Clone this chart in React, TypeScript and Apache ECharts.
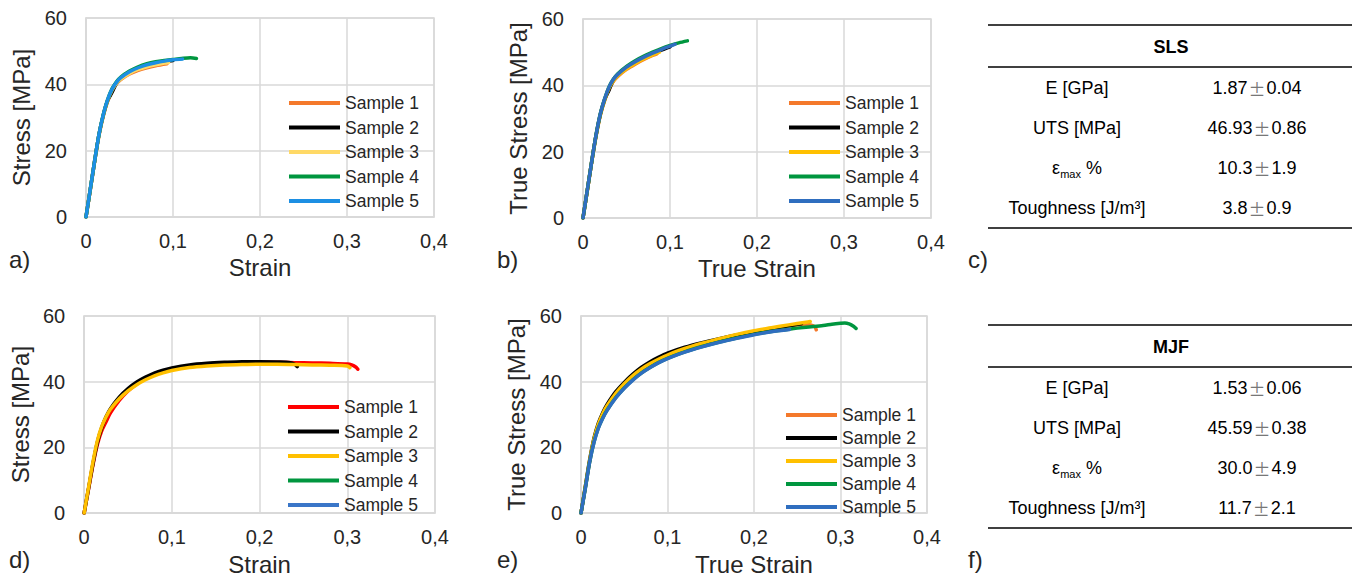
import React, { useEffect, useRef } from "react";
import * as echarts from "echarts";

type Pt = [number, number];

const sampleNames = ["Sample 1", "Sample 2", "Sample 3", "Sample 4", "Sample 5"];
const yTicks = [0, 20, 40, 60];
const xTicks = [0, 0.1, 0.2, 0.3, 0.4];

// a) SLS engineering stress-strain
const slsEngS1: Pt[] = [[0,0],[0.005,8.3],[0.01,16.8],[0.015,24.6],[0.02,30.6],[0.025,35],[0.03,38.1],[0.035,40.1],[0.04,41.4],[0.05,43.1],[0.06,44.2],[0.07,45],[0.08,45.6],[0.093,46.2]];
const slsEngS2: Pt[] = [[0,0],[0.005,8.4],[0.01,17],[0.015,25],[0.02,30.8],[0.025,35.2],[0.03,37.6],[0.035,40.3],[0.04,41.8],[0.05,43.6],[0.06,44.8],[0.07,45.7],[0.08,46.3],[0.09,46.8],[0.1,47.2]];
const slsEngS3: Pt[] = [[0,0],[0.005,8.4],[0.01,16.9],[0.015,24.8],[0.02,30.8],[0.025,35.2],[0.03,38.3],[0.035,40.3],[0.04,41.6],[0.05,43.3],[0.06,44.5],[0.07,45.3],[0.08,45.9],[0.09,46.4],[0.095,46.6]];
const slsEngS4: Pt[] = [[0,0],[0.005,8.5],[0.01,17],[0.015,25],[0.02,31],[0.025,35.5],[0.03,38.7],[0.035,40.8],[0.04,42.2],[0.05,44],[0.06,45.3],[0.07,46.2],[0.08,46.8],[0.09,47.2],[0.1,47.5],[0.11,47.8],[0.12,48],[0.127,47.8]];
const slsEngS5: Pt[] = [[0,0],[0.005,8.5],[0.01,17],[0.015,25],[0.02,31],[0.025,35.5],[0.03,38.6],[0.035,40.6],[0.04,42],[0.05,43.8],[0.06,45],[0.07,45.9],[0.08,46.5],[0.09,47],[0.1,47.4],[0.111,47.6]];

// b) SLS true stress-strain
const slsTrueS1: Pt[] = [[0,0],[0.005,8.3],[0.01,16.8],[0.015,24.6],[0.02,31],[0.025,35.5],[0.03,39],[0.035,41.2],[0.04,42.7],[0.05,44.8],[0.06,46.4],[0.07,47.8],[0.08,49],[0.085,49.5]];
const slsTrueS2: Pt[] = [[0,0],[0.005,8.4],[0.01,17],[0.015,25],[0.02,31.3],[0.025,35.8],[0.03,38.6],[0.035,41.6],[0.04,43.1],[0.05,45.3],[0.06,46.9],[0.07,48.3],[0.08,49.5],[0.09,50.6],[0.1,51.6]];
const slsTrueS3: Pt[] = [[0,0],[0.005,8.4],[0.01,16.9],[0.015,24.8],[0.02,31.2],[0.025,35.7],[0.03,39.2],[0.035,41.4],[0.04,42.9],[0.05,45],[0.06,46.6],[0.07,48],[0.08,49.2],[0.088,50]];
const slsTrueS4: Pt[] = [[0,0],[0.005,8.5],[0.01,17],[0.015,25],[0.02,31.5],[0.025,36],[0.03,39.6],[0.035,41.9],[0.04,43.5],[0.05,45.7],[0.06,47.4],[0.07,48.8],[0.08,50],[0.09,51.1],[0.1,52],[0.11,52.8],[0.12,53.4]];
const slsTrueS5: Pt[] = [[0,0],[0.005,8.5],[0.01,17],[0.015,25],[0.02,31.5],[0.025,36],[0.03,39.5],[0.035,41.8],[0.04,43.3],[0.05,45.5],[0.06,47.1],[0.07,48.5],[0.08,49.7],[0.09,50.8],[0.1,51.8],[0.106,52.4]];

// d) MJF engineering stress-strain
const mjfEngS1: Pt[] = [[0,0],[0.005,7.3],[0.01,14.6],[0.015,20.8],[0.02,25],[0.025,27.8],[0.03,30.5],[0.04,34.3],[0.05,37.2],[0.06,39.3],[0.07,40.9],[0.08,42.1],[0.09,43],[0.1,43.7],[0.12,44.7],[0.14,45.3],[0.16,45.6],[0.18,45.8],[0.2,45.9],[0.22,45.9],[0.24,45.8],[0.26,45.7],[0.28,45.6],[0.3,45.4],[0.305,45.1],[0.31,44.4],[0.312,43.8]];
const mjfEngS2: Pt[] = [[0,0],[0.005,7.5],[0.01,15],[0.015,21.5],[0.02,26],[0.025,29.3],[0.03,31.8],[0.04,35.3],[0.05,37.9],[0.06,39.9],[0.07,41.4],[0.08,42.6],[0.09,43.5],[0.1,44.2],[0.12,45.1],[0.14,45.6],[0.16,45.9],[0.18,46.1],[0.2,46.1],[0.22,46],[0.235,45.8],[0.24,45.3],[0.243,44.6]];
const mjfEngS3: Pt[] = [[0,0],[0.005,7.8],[0.01,15.5],[0.015,22],[0.02,26.3],[0.025,29.3],[0.03,31.6],[0.04,34.8],[0.05,37.2],[0.06,39.1],[0.07,40.6],[0.08,41.8],[0.09,42.7],[0.1,43.4],[0.12,44.3],[0.14,44.8],[0.16,45.1],[0.18,45.2],[0.2,45.3],[0.22,45.3],[0.24,45.2],[0.26,45.1],[0.28,45],[0.3,44.8],[0.303,44.3]];
const mjfEngS4: Pt[] = [];
const mjfEngS5: Pt[] = [];

// e) MJF true stress-strain
const mjfTrueS1: Pt[] = [[0,0],[0.005,7.9],[0.01,15.8],[0.015,22.2],[0.02,26.7],[0.025,29.9],[0.03,32.3],[0.04,36.1],[0.05,39.1],[0.06,41.6],[0.07,43.6],[0.08,45.2],[0.09,46.6],[0.1,47.8],[0.12,49.8],[0.14,51.4],[0.16,52.8],[0.18,54.1],[0.2,55.2],[0.22,56.1],[0.24,56.9],[0.26,57.5],[0.265,57.3],[0.27,56.8],[0.272,55.8]];
const mjfTrueS2: Pt[] = [[0,0],[0.005,8.1],[0.01,16.2],[0.015,22.8],[0.02,27.3],[0.025,30.5],[0.03,33],[0.04,36.9],[0.05,39.8],[0.06,42.3],[0.07,44.4],[0.08,46.1],[0.09,47.5],[0.1,48.7],[0.12,50.5],[0.14,51.9],[0.16,53.1],[0.18,54.2],[0.2,55.2],[0.22,56.1],[0.24,57],[0.255,57.6]];
const mjfTrueS3: Pt[] = [[0,0],[0.005,8],[0.01,16],[0.015,22.5],[0.02,27],[0.025,30.2],[0.03,32.6],[0.04,36.4],[0.05,39.4],[0.06,41.9],[0.07,43.9],[0.08,45.5],[0.09,46.9],[0.1,48.1],[0.12,50.1],[0.14,51.7],[0.16,53.1],[0.18,54.4],[0.2,55.5],[0.22,56.4],[0.24,57.3],[0.26,58.1],[0.265,58.3]];
const mjfTrueS4: Pt[] = [[0,0],[0.005,7.6],[0.01,15.5],[0.015,21.6],[0.02,25.9],[0.025,28.9],[0.03,31.3],[0.04,35.1],[0.05,38.1],[0.06,40.6],[0.07,42.7],[0.08,44.4],[0.09,45.9],[0.1,47.1],[0.12,49.1],[0.14,50.7],[0.16,52.1],[0.18,53.3],[0.2,54.4],[0.22,55.3],[0.24,56],[0.26,56.6],[0.28,57.1],[0.29,57.5],[0.3,57.8],[0.305,57.9],[0.31,57.6],[0.315,56.9],[0.318,56.2]];
const mjfTrueS5: Pt[] = [[0,0],[0.005,7.5],[0.01,15.5],[0.015,21.5],[0.02,25.8],[0.025,28.8],[0.03,31.2],[0.04,35],[0.05,38],[0.06,40.5],[0.07,42.6],[0.08,44.3],[0.09,45.8],[0.1,47],[0.12,49],[0.14,50.6],[0.16,52],[0.18,53.2],[0.2,54.3],[0.22,55.2],[0.241,55.9]];

// tables
const tableRowLabels = ["E [GPa]", "UTS [MPa]", "{eps|ε}{sub|max}{n| %}", "Toughness [J/m³]"];
const slsTitle = "SLS";
const slsMeans = ["1.87", "46.93", "10.3", "3.8"];
const slsDevs = ["0.04", "0.86", "1.9", "0.9"];
const mjfTitle = "MJF";
const mjfMeans = ["1.53", "45.59", "30.0", "11.7"];
const mjfDevs = ["0.06", "0.38", "4.9", "2.1"];

const FONT = "'Liberation Sans', Arial, Helvetica, sans-serif";
const TXT = "#262626";
const GRID = "#D9D9D9";

interface PanelCfg {
  grid: { left: number; top: number; width: number; height: number };
  legend: { left: number; top: number; gap: number };
  colors: string[];
  data: Pt[][];
  xName: string;
  yName: string;
  yNameGap: number;
  xNameGap: number;
  letter: string;
  letterPos: { left: number; top: number };
}

function fmtX(v: number) {
  const r = Math.round(v * 10) / 10;
  return String(r).replace(".", ",");
}

function buildOption(c: PanelCfg) {
  return {
    animation: false,
    textStyle: { fontFamily: FONT },
    grid: { ...c.grid, show: true, borderColor: GRID, borderWidth: 1.5, containLabel: false },
    legend: {
      orient: "vertical",
      left: c.legend.left,
      top: c.legend.top,
      padding: 0,
      itemWidth: 51,
      itemHeight: 4,
      itemGap: c.legend.gap,
      icon: "rect",
      selectedMode: false,
      data: sampleNames,
      textStyle: { fontSize: 17.5, color: TXT, fontFamily: FONT, lineHeight: 20 },
    },
    xAxis: {
      type: "value",
      min: xTicks[0],
      max: xTicks[xTicks.length - 1],
      interval: 0.1,
      name: c.xName,
      nameLocation: "middle",
      nameGap: c.xNameGap,
      nameTextStyle: { fontSize: 24, color: TXT, fontFamily: FONT },
      axisLine: { lineStyle: { color: GRID, width: 1.5 } },
      axisTick: { show: false },
      axisLabel: { fontSize: 20, color: TXT, margin: 14, formatter: fmtX, fontFamily: FONT },
      splitLine: { lineStyle: { color: GRID, width: 1.5 } },
    },
    yAxis: {
      type: "value",
      min: yTicks[0],
      max: yTicks[yTicks.length - 1],
      interval: 20,
      name: c.yName,
      nameLocation: "middle",
      nameGap: c.yNameGap,
      nameTextStyle: { fontSize: 24, color: TXT, fontFamily: FONT },
      axisLine: { show: true, lineStyle: { color: GRID, width: 1.5 } },
      axisTick: { show: false },
      axisLabel: { fontSize: 20, color: TXT, margin: 19, fontFamily: FONT },
      splitLine: { lineStyle: { color: GRID, width: 1.5 } },
    },
    graphic: [
      {
        type: "text",
        left: c.letterPos.left,
        top: c.letterPos.top,
        style: { text: c.letter, fontSize: 24, fill: TXT, fontFamily: FONT },
      },
    ],
    series: sampleNames.map((n, i) => ({
      name: n,
      type: "line",
      data: c.data[i],
      showSymbol: false,
      symbol: "none",
      smooth: 0.3,
      clip: true,
      itemStyle: { color: c.colors[i] },
      lineStyle: { color: c.colors[i], width: 3.5, cap: "round", join: "round" },
    })),
  };
}

const panelA: PanelCfg = {
  grid: { left: 86, top: 18, width: 348, height: 199 },
  legend: { left: 289, top: 93, gap: 4.5 },
  colors: ["#F4792B", "#000000", "#FFD966", "#00963F", "#1C8FE3"],
  data: [slsEngS1, slsEngS2, slsEngS3, slsEngS4, slsEngS5],
  xName: "Strain",
  yName: "Stress [MPa]",
  yNameGap: 50,
  xNameGap: 35,
  letter: "a)",
  letterPos: { left: 9, top: 247 },
};

const panelB: PanelCfg = {
  grid: { left: 93, top: 19, width: 348, height: 199 },
  legend: { left: 299, top: 93, gap: 4.5 },
  colors: ["#F4792B", "#000000", "#FFC000", "#00963F", "#2F6EBF"],
  data: [slsTrueS1, slsTrueS2, slsTrueS3, slsTrueS4, slsTrueS5],
  xName: "True Strain",
  yName: "True Stress [MPa]",
  yNameGap: 49,
  xNameGap: 35,
  letter: "b)",
  letterPos: { left: 7, top: 247 },
};

const panelD: PanelCfg = {
  grid: { left: 83, top: 26, width: 352, height: 204 },
  legend: { left: 288, top: 107, gap: 4.5 },
  colors: ["#FF0000", "#000000", "#FFC000", "#00963F", "#3A76C8"],
  data: [mjfEngS1, mjfEngS2, mjfEngS3, mjfEngS4, mjfEngS5],
  xName: "Strain",
  yName: "Stress [MPa]",
  yNameGap: 49,
  xNameGap: 34,
  letter: "d)",
  letterPos: { left: 9, top: 257 },
};

const panelE: PanelCfg = {
  grid: { left: 91, top: 26, width: 346, height: 203 },
  legend: { left: 296, top: 115, gap: 3 },
  colors: ["#F4792B", "#000000", "#FFC000", "#00963F", "#2F6EBF"],
  data: [mjfTrueS1, mjfTrueS2, mjfTrueS3, mjfTrueS4, mjfTrueS5],
  xName: "True Strain",
  yName: "True Stress [MPa]",
  yNameGap: 49,
  xNameGap: 35,
  letter: "e)",
  letterPos: { left: 7, top: 257 },
};

function tableGraphics(title: string, means: string[], devs: string[], y0: number, letter: string, letterY: number) {
  const x1 = 28;
  const x2 = 392;
  const cx = 211;
  const lc = 117;
  const rc = 297;
  const els: any[] = [];
  const line = (y: number) => ({
    type: "line",
    shape: { x1, y1: y, x2, y2: y },
    style: { stroke: "#000", lineWidth: 1.5 },
  });
  els.push(line(y0));
  els.push(line(y0 + 42));
  els.push(line(y0 + 203));
  els.push({
    type: "text",
    x: cx,
    y: y0 + 22,
    style: { text: title, fontSize: 18, fontWeight: "bold", fill: "#000", fontFamily: FONT, align: "center", verticalAlign: "middle" },
  });
  tableRowLabels.forEach((lab, i) => {
    const y = y0 + 63 + i * 40;
    els.push({
      type: "text",
      x: lc,
      y,
      style: {
        text: lab,
        fontSize: 18,
        fill: "#000",
        fontFamily: FONT,
        align: "center",
        verticalAlign: "middle",
        rich: {
          eps: { fontSize: 18, fontFamily: FONT, fill: "#000", lineHeight: 22, verticalAlign: "middle" },
          sub: { fontSize: 11, fontFamily: FONT, fill: "#000", lineHeight: 22, verticalAlign: "bottom", padding: [8, 0, 0, 0] },
          n: { fontSize: 18, fontFamily: FONT, fill: "#000", lineHeight: 22, verticalAlign: "middle" },
        },
      },
    });
    els.push({
      type: "text",
      x: rc,
      y,
      style: {
        text: `{v|${means[i]}}{pm|±}{v|${devs[i]}}`,
        fontSize: 18,
        fill: "#000",
        fontFamily: FONT,
        align: "center",
        verticalAlign: "middle",
        rich: {
          v: { fontSize: 18, fontFamily: FONT, fill: "#000", lineHeight: 22 },
          pm: { fontSize: 17, fontFamily: "'Noto Sans CJK SC', sans-serif", fill: "#777", lineHeight: 22, padding: [0, 1, 0, 1] },
        },
      },
    });
  });
  els.push({
    type: "text",
    left: 8,
    top: letterY,
    style: { text: letter, fontSize: 24, fill: TXT, fontFamily: FONT },
  });
  return els;
}

function Chart({ option, style }: { option: any; style: React.CSSProperties }) {
  const ref = useRef<HTMLDivElement>(null);
  useEffect(() => {
    if (!ref.current) return;
    const chart = echarts.init(ref.current, undefined, { renderer: "svg" });
    chart.setOption(option);
    return () => chart.dispose();
  }, [option]);
  return <div ref={ref} style={{ position: "absolute", ...style }} />;
}

const optA = buildOption(panelA);
const optB = buildOption(panelB);
const optD = buildOption(panelD);
const optE = buildOption(panelE);
const optTables = {
  animation: false,
  graphic: [
    ...tableGraphics(slsTitle, slsMeans, slsDevs, 25, "c)", 247),
    ...tableGraphics(mjfTitle, mjfMeans, mjfDevs, 325, "f)", 547),
  ],
};

export default function App() {
  return (
    <div style={{ position: "fixed", left: 0, top: 0, width: 1356, height: 581, background: "#fff", overflow: "hidden" }}>
      <Chart option={optA} style={{ left: 0, top: 0, width: 480, height: 290 }} />
      <Chart option={optB} style={{ left: 490, top: 0, width: 470, height: 290 }} />
      <Chart option={optD} style={{ left: 0, top: 290, width: 480, height: 291 }} />
      <Chart option={optE} style={{ left: 490, top: 290, width: 470, height: 291 }} />
      <Chart option={optTables} style={{ left: 960, top: 0, width: 396, height: 581 }} />
    </div>
  );
}
